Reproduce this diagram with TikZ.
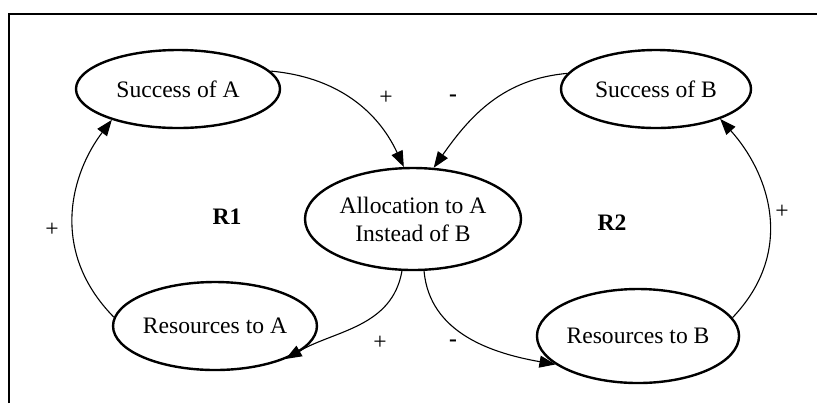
\documentclass[tikz,border=0pt]{standalone}
\usepackage{fontspec}
\setmainfont{Liberation Serif}
\usepackage{tikz}
\usetikzlibrary{shapes.geometric,arrows.meta}

\tikzset{
  var/.style={ellipse, draw, line width=1.2pt, inner sep=0pt, align=center,
    font=\fontsize{11.8}{14}\selectfont},
  causal/.style={line width=0.55pt, -{Triangle[length=8pt,width=6pt]}},
  pol/.style={font=\fontsize{11.8}{14}\selectfont},
  loopname/.style={font=\fontsize{11.8}{14}\selectfont\bfseries}
}

\begin{document}
\begin{tikzpicture}[x=0.5pt,y=-0.5pt]
\useasboundingbox (0,0) rectangle (817,403);
\draw[line width=1.3pt] (9,403) -- (9,14) -- (817,14);

\node[var, minimum width=102pt, minimum height=39pt] (sa) at (178,89) {Success of A};
\node[var, minimum width=95pt, minimum height=39pt] (sb) at (656,89) {Success of B};
\node[var, minimum width=108pt, minimum height=51pt] (alloc) at (413,219) {Allocation to A\\Instead of B};
\node[var, minimum width=100pt, minimum height=44pt] (ra) at (215,326) {Resources to A};
\node[var, minimum width=97pt, minimum height=47pt] (rb) at (638,336) {Resources to B};

\draw[causal] (sa.11) to[out=-5, in=115] (alloc.100);
\draw[causal] (sb.170) to[out=185, in=55] (alloc.68);
\draw[causal] (ra.175) .. controls (48,250) and (72,172) .. (sa.205);
\draw[causal] (rb.11) .. controls (797,250) and (768,172) .. (sb.-25);
\draw[causal] (alloc.-102) to[out=-100, in=30] (ra.-25);
\draw[causal] (alloc.-78) to[out=-85, in=170] (rb.199);

\node[pol] (p1) at (386,98) {+};
\node[pol] (m1) at (453,98) {\textbf{-}};
\node[pol] (p2) at (52,230) {+};
\node[pol] (p3) at (782,212) {+};
\node[pol] (p4) at (380,343) {+};
\node[pol] (m2) at (453,343) {\textbf{-}};

\node[loopname] (r1) at (227,217) {R1};
\node[loopname] (r2) at (612,223) {R2};
\end{tikzpicture}
\end{document}
